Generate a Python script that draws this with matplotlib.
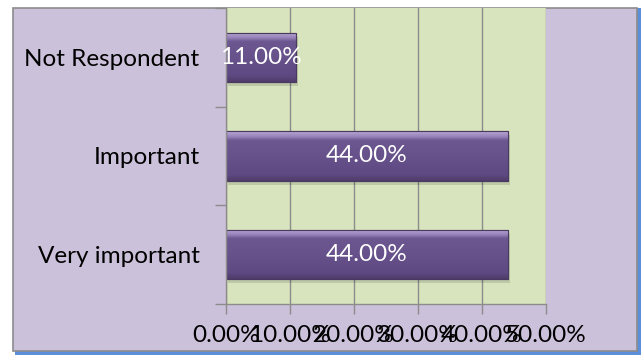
import numpy as np
import matplotlib.pyplot as plt
from matplotlib.patches import Rectangle
from matplotlib.colors import LinearSegmentedColormap

categories = ["Very important", "Important", "Not Respondent"]
values = [44.0, 44.0, 11.0]
xticks = [0, 10, 20, 30, 40, 50]
xtick_labels = ["0.00%", "10.00%", "20.00%", "30.00%", "40.00%", "50.00%"]

plt.rcParams['font.family'] = ['Lato', 'DejaVu Sans']
FS = 17.5

W, H = 643, 356
fig = plt.figure(figsize=(W / 100, H / 100), dpi=100)
fig.patch.set_facecolor('white')

# chart area background with blue shadow edge
fig.patches.append(Rectangle((15 / W, 1 - 355 / H), 626 / W, 347 / H,
                             transform=fig.transFigure, facecolor='#5b8fd9',
                             edgecolor='none', zorder=-2))
fig.patches.append(Rectangle((13 / W, 1 - 351 / H), 624 / W, 343 / H,
                             transform=fig.transFigure, facecolor='#ccc1da',
                             edgecolor='#8c8c8c', linewidth=1.2, zorder=-1))

ax = fig.add_axes([226 / W, 1 - 304 / H, 320 / W, 296 / H])
ax.set_zorder(1)
ax.set_facecolor('#d8e4bd')
ax.set_xlim(0, 50)
ax.set_ylim(-0.5, 2.5)

ax.set_xticks(xticks)
ax.set_xticklabels(xtick_labels)
ax.set_yticks(range(len(categories)))
ax.set_yticklabels(categories)
ax.set_yticks([-0.5, 0.5, 1.5, 2.5], minor=True)
ax.tick_params(axis='y', which='major', length=0, pad=19, labelsize=FS, labelcolor='black')
ax.tick_params(axis='y', which='minor', length=8, width=1, color='#8c8c8c')
ax.tick_params(axis='x', length=7, width=1, color='#8c8c8c', pad=8, labelsize=FS)

ax.grid(axis='x', color='#8c8c8c', linewidth=1)
ax.set_axisbelow(True)
for side in ['top', 'right']:
    ax.spines[side].set_visible(False)
for side in ['left', 'bottom']:
    ax.spines[side].set_color('#8c8c8c')
    ax.spines[side].set_linewidth(1)

# vertical gradient for bevelled bars
grad_cmap = LinearSegmentedColormap.from_list(
    'bevel', [(0.0, '#4f3c6b'), (0.12, '#5f4982'), (0.5, '#67528b'),
              (0.82, '#6c5790'), (0.9, '#9a85bd'), (1.0, '#b7a6d2')])
grad = np.linspace(0, 1, 64).reshape(-1, 1)

bar_h = 0.5
bars = ax.barh(range(len(categories)), values, height=bar_h,
               color='#67528b', edgecolor='#4a3a60', linewidth=0.8, zorder=2)
for bar, v in zip(bars, values):
    x0, y0 = bar.get_x(), bar.get_y()
    w, h = bar.get_width(), bar.get_height()
    # soft drop shadow
    ax.add_patch(Rectangle((x0 + 0.3, y0 - 0.04), w, h, facecolor='#000000',
                           alpha=0.12, edgecolor='none', zorder=1.5))
    im = ax.imshow(grad, extent=(x0, x0 + w, y0, y0 + h), origin='lower',
                   cmap=grad_cmap, aspect='auto', zorder=2.1)
    im.set_clip_path(bar)
    ax.add_patch(Rectangle((x0, y0), w, h, facecolor='none',
                           edgecolor='#4a3a60', linewidth=0.8, zorder=2.2))
    ax.text(x0 + w / 2, y0 + h / 2, f"{v:.2f}%", ha='center', va='center',
            color='white', fontsize=FS, zorder=3)

ax.set_xlim(0, 50)
ax.set_ylim(-0.5, 2.5)

fig.savefig('out.png', dpi=100)
